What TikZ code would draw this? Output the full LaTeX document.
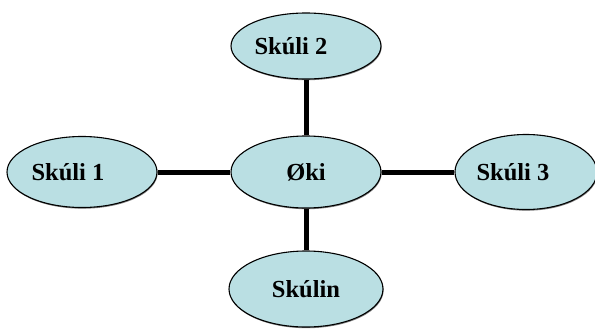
\documentclass[tikz,border=0pt]{standalone}
\usepackage{fontspec}
\setmainfont{Liberation Serif}
\usetikzlibrary{shapes.geometric,shadows}
\definecolor{ellfill}{RGB}{186,223,227}
\begin{document}
\begin{tikzpicture}[x=1pt,y=-1pt,
  bubble/.style={ellipse,draw=black,line width=1.1pt,fill=ellfill,inner sep=0pt,
    font=\bfseries\fontsize{24.5}{28}\selectfont,
    drop shadow={shadow xshift=0.6pt,shadow yshift=-1.2pt,opacity=0.5,fill=black}},
  link/.style={line width=5pt}]
\useasboundingbox (0,0) rectangle (595,330);
\node[bubble,minimum width=150pt,minimum height=71pt] (s1) at (82,172) {Skúli 1\hspace*{28pt}};
\node[bubble,minimum width=150pt,minimum height=72pt] (oki) at (306,172) {Øki};
\node[bubble,minimum width=150pt,minimum height=66pt] (s2) at (306,46) {Skúli 2\hspace*{30pt}};
\node[bubble,minimum width=142pt,minimum height=75pt] (s3) at (526,172) {Skúli 3\hspace*{26pt}};
\node[bubble,minimum width=154pt,minimum height=76pt] (sn) at (306,289) {Skúlin};
\draw[link] (s1) -- (oki);
\draw[link] (oki) -- (s3);
\draw[link] (s2) -- (oki);
\draw[link] (oki) -- (sn);
\end{tikzpicture}
\end{document}
